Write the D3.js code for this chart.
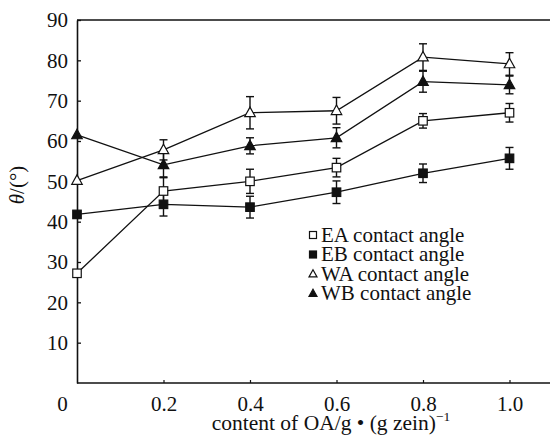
<!DOCTYPE html>
<html>
<head>
<meta charset="utf-8">
<script src="https://cdn.jsdelivr.net/npm/d3@7"></script>
<style>
  html, body { margin: 0; padding: 0; background: #fff; }
  svg { display: block; }
  text { font-family: "Liberation Serif", "Times New Roman", serif; fill: #111; }
</style>
</head>
<body>
<svg id="chart" width="550" height="436"></svg>
<script>
// OA content (g per g zein)
const oaContent = [0, 0.2, 0.4, 0.6, 0.8, 1.0];

// contact angles (degrees) and their error bar half-widths
const eaAngle = [27.2, 47.6, 50.0, 53.4, 65.0, 67.0];
const eaError = [0, 3.3, 3.0, 2.3, 1.8, 2.3];
const ebAngle = [41.8, 44.3, 43.6, 47.3, 52.0, 55.7];
const ebError = [0, 2.9, 2.7, 2.8, 2.3, 2.7];
const waAngle = [50.2, 57.8, 67.0, 67.5, 80.8, 79.1];
const waError = [0, 2.5, 4.0, 3.3, 3.3, 2.8];
const wbAngle = [61.5, 54.1, 58.8, 60.8, 74.7, 73.9];
const wbError = [0, 3.0, 2.0, 2.5, 2.6, 2.2];

const seriesNames = ["EA contact angle", "EB contact angle", "WA contact angle", "WB contact angle"];

const xTicks = [0, 0.2, 0.4, 0.6, 0.8, 1.0];
const xTickLabels = ["0", "0.2", "0.4", "0.6", "0.8", "1.0"];
const yTicks = [10, 20, 30, 40, 50, 60, 70, 80, 90];

const series = [
  { name: seriesNames[0], values: eaAngle, errors: eaError, shape: "square", filled: false },
  { name: seriesNames[1], values: ebAngle, errors: ebError, shape: "square", filled: true },
  { name: seriesNames[2], values: waAngle, errors: waError, shape: "triangle", filled: false },
  { name: seriesNames[3], values: wbAngle, errors: wbError, shape: "triangle", filled: true }
];

const svg = d3.select("#chart");
const plotLeft = 77, plotTop = 20, plotBottom = 383, plotRight = 550;
const serif = "'Liberation Serif', 'Times New Roman', serif";

const x = d3.scaleLinear().domain([0, 1]).range([plotLeft, 509.5]);
const y = d3.scaleLinear().domain([0, 90]).range([plotBottom, plotTop]);

const ink = "#111";

// frame: left axis, bottom axis and top rule (open on the right)
svg.append("line").attr("x1", plotLeft).attr("x2", plotRight).attr("y1", y(0)).attr("y2", y(0))
  .attr("stroke", ink).attr("stroke-width", 1.6);
svg.append("line").attr("x1", plotLeft).attr("x2", plotRight).attr("y1", y(90)).attr("y2", y(90))
  .attr("stroke", ink).attr("stroke-width", 1.4);

const yAxis = svg.append("g").attr("transform", `translate(${plotLeft},0)`)
  .call(d3.axisLeft(y).tickValues(yTicks).tickSizeInner(-4).tickSizeOuter(0).tickPadding(9))
  .attr("font-family", serif).attr("font-size", 21);
yAxis.select(".domain").attr("stroke", ink).attr("stroke-width", 1.6);
yAxis.selectAll(".tick line").attr("stroke", ink).attr("stroke-width", 1.3);
yAxis.selectAll(".tick text").attr("fill", ink);

const xAxis = svg.append("g").attr("transform", `translate(0,${y(0)})`)
  .call(d3.axisBottom(x).tickValues(xTicks).tickSizeInner(-3).tickSizeOuter(0).tickPadding(13)
    .tickFormat((d, i) => xTickLabels[i]))
  .attr("font-family", serif).attr("font-size", 21);
xAxis.select(".domain").remove();
xAxis.selectAll(".tick line").attr("stroke", ink).attr("stroke-width", 1.2)
  .style("display", d => d === 0 ? "none" : null);
xAxis.selectAll(".tick text").attr("fill", ink)
  .attr("dx", d => d === 0 ? -15 : 0);

// axis titles
const xTitle = svg.append("text").attr("x", 331).attr("y", 430).attr("text-anchor", "middle")
  .attr("font-family", serif).attr("font-size", 21.5);
xTitle.append("tspan").text("content of OA/g \u2022 (g zein)");
xTitle.append("tspan").attr("dy", -9).attr("font-size", 13.5).text("\u22121");

const yTitle = svg.append("text").attr("transform", "translate(24,185) rotate(-90)")
  .attr("text-anchor", "middle").attr("font-family", serif).attr("font-size", 21);
yTitle.append("tspan").attr("font-style", "italic").text("\u03b8");
yTitle.append("tspan").text("/(\u00b0)");

// marker drawing helper
function marker(g, shape, filled, size) {
  if (shape === "square") {
    g.append("rect").attr("x", -size / 2).attr("y", -size / 2).attr("width", size).attr("height", size)
      .attr("fill", filled ? ink : "#fff").attr("stroke", ink).attr("stroke-width", 1.2);
  } else {
    const h = size * 0.9;
    g.append("path").attr("d", `M0,${-h * 0.6}L${size / 2},${h * 0.4}L${-size / 2},${h * 0.4}Z`)
      .attr("fill", filled ? ink : "#fff").attr("stroke", ink).attr("stroke-width", 1.2)
      .attr("stroke-linejoin", "miter");
  }
}

const line = d3.line().x(d => x(d.x)).y(d => y(d.v));

series.forEach(s => {
  const pts = oaContent.map((xv, i) => ({ x: xv, v: s.values[i], e: s.errors[i] }));
  s.pts = pts;
  svg.append("path").datum(pts).attr("d", line).attr("fill", "none")
    .attr("stroke", ink).attr("stroke-width", 1.3);
});

// error bars
series.forEach(s => {
  const eb = svg.append("g").selectAll("g").data(s.pts.filter(p => p.e > 0)).join("g");
  eb.append("line").attr("x1", p => x(p.x)).attr("x2", p => x(p.x))
    .attr("y1", p => y(p.v - p.e)).attr("y2", p => y(p.v + p.e))
    .attr("stroke", ink).attr("stroke-width", 1.4);
  [-1, 1].forEach(sg => {
    eb.append("line").attr("x1", p => x(p.x) - 4).attr("x2", p => x(p.x) + 4)
      .attr("y1", p => y(p.v + sg * p.e)).attr("y2", p => y(p.v + sg * p.e))
      .attr("stroke", ink).attr("stroke-width", 1.4);
  });
});

// point markers
series.forEach(s => {
  s.pts.forEach(p => {
    const g = svg.append("g").attr("transform", `translate(${x(p.x)},${y(p.v)})`);
    marker(g, s.shape, s.filled, s.shape === "square" ? 8.5 : 10.5);
  });
});

// legend
const legend = svg.append("g").attr("transform", "translate(313,235)");
series.forEach((s, i) => {
  const row = legend.append("g").attr("transform", `translate(0,${i * 19.5})`);
  marker(row, s.shape, s.filled, s.shape === "square" ? 7 : 8);
  row.append("text").attr("x", 8).attr("y", 6.5)
    .attr("font-family", serif).attr("font-size", 21).text(s.name);
});
</script>
</body>
</html>
